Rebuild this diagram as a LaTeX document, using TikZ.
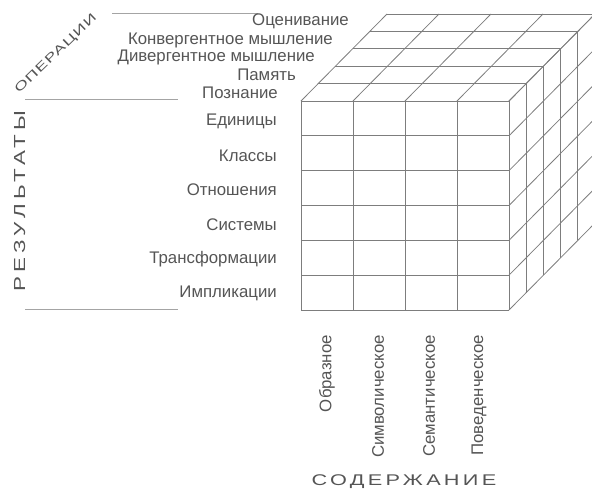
\documentclass[tikz,border=0pt]{standalone}
\usepackage{fontspec}
\setmainfont{Liberation Sans}
\definecolor{txt}{RGB}{85,85,85}
\definecolor{ln}{RGB}{125,125,125}
\begin{document}
\begin{tikzpicture}[x=1pt,y=-1pt,
  lbl/.style={text=txt,font=\fontsize{16.8}{18}\selectfont,inner sep=0pt},
  axislbl/.style={text=txt,inner sep=0pt},
  grid/.style={draw=ln,line width=0.8pt},
  rule/.style={draw=ln!70,line width=0.8pt}]
\useasboundingbox (0,0) rectangle (592,493);
\clip (0,0) rectangle (592,493);
% front face
\foreach \i in {0,...,4} \draw[grid] ({301+52*\i},101) -- ({301+52*\i},310);
\foreach \j in {0,...,6} \draw[grid] (301,{101+34.833*\j}) -- (509,{101+34.833*\j});
% top face
\foreach \i in {0,...,4} \draw[grid] ({301+52*\i},101) -- ++(86,-87);
\foreach \k in {1,...,5} \draw[grid] ({301+17.2*\k},{101-17.4*\k}) -- ++(208,0);
% right face
\foreach \k in {1,...,5} \draw[grid] ({509+17.2*\k},{101-17.4*\k}) -- ++(0,209);
\foreach \j in {0,...,6} \draw[grid] (509,{101+34.833*\j}) -- ++(86,-87);
% rules
\coordinate (r1a) at (112,13); \coordinate (r1b) at (258,13);
\coordinate (r2a) at (25,99);  \coordinate (r2b) at (178,99);
\coordinate (r3a) at (25,309); \coordinate (r3b) at (178,309);
\draw[rule] (r1a) -- (r1b);
\draw[rule] (r2a) -- (r2b);
\draw[rule] (r3a) -- (r3b);
% operations
\node[lbl,anchor=east] (op1) at (278,92.5) {Познание};
\node[lbl,anchor=east] (op2) at (296,75) {Память};
\node[lbl,anchor=east] (op3) at (315,57.5) {Дивергентное мышление};
\node[lbl,anchor=east] (op4) at (333,40) {Конвергентное мышление};
\node[lbl,anchor=east] (op5) at (349,21.5) {Оценивание};
% results
\node[lbl,anchor=east] (re1) at (277,121) {Единицы};
\node[lbl,anchor=east] (re2) at (277,155.5) {Классы};
\node[lbl,anchor=east] (re3) at (277,190) {Отношения};
\node[lbl,anchor=east] (re4) at (277,224.5) {Системы};
\node[lbl,anchor=east] (re5) at (277,259) {Трансформации};
\node[lbl,anchor=east] (re6) at (277,293.5) {Импликации};
% content
\node[lbl,rotate=90,anchor=east] (co1) at (327,335) {Образное};
\node[lbl,rotate=90,anchor=east] (co2) at (378,335) {Символическое};
\node[lbl,rotate=90,anchor=east] (co3) at (429,335) {Семантическое};
\node[lbl,rotate=90,anchor=east] (co4) at (479,335) {Поведенческое};
% axis titles
\node[axislbl,rotate=44] (ops) at (56,54) {\fontsize{12}{14}\selectfont\addfontfeature{LetterSpace=6}\scalebox{1.5}[1]{ОПЕРАЦИИ}};
\node[axislbl,rotate=90] (res) at (19.5,201) {\fontsize{16}{18}\selectfont\addfontfeature{LetterSpace=19}\scalebox{1.4}[1]{РЕЗУЛЬТАТЫ}};
\node[axislbl] (con) at (404,482) {\fontsize{15.5}{17}\selectfont\addfontfeature{LetterSpace=15}\scalebox{1.4}[1]{СОДЕРЖАНИЕ}};
\end{tikzpicture}
\end{document}
